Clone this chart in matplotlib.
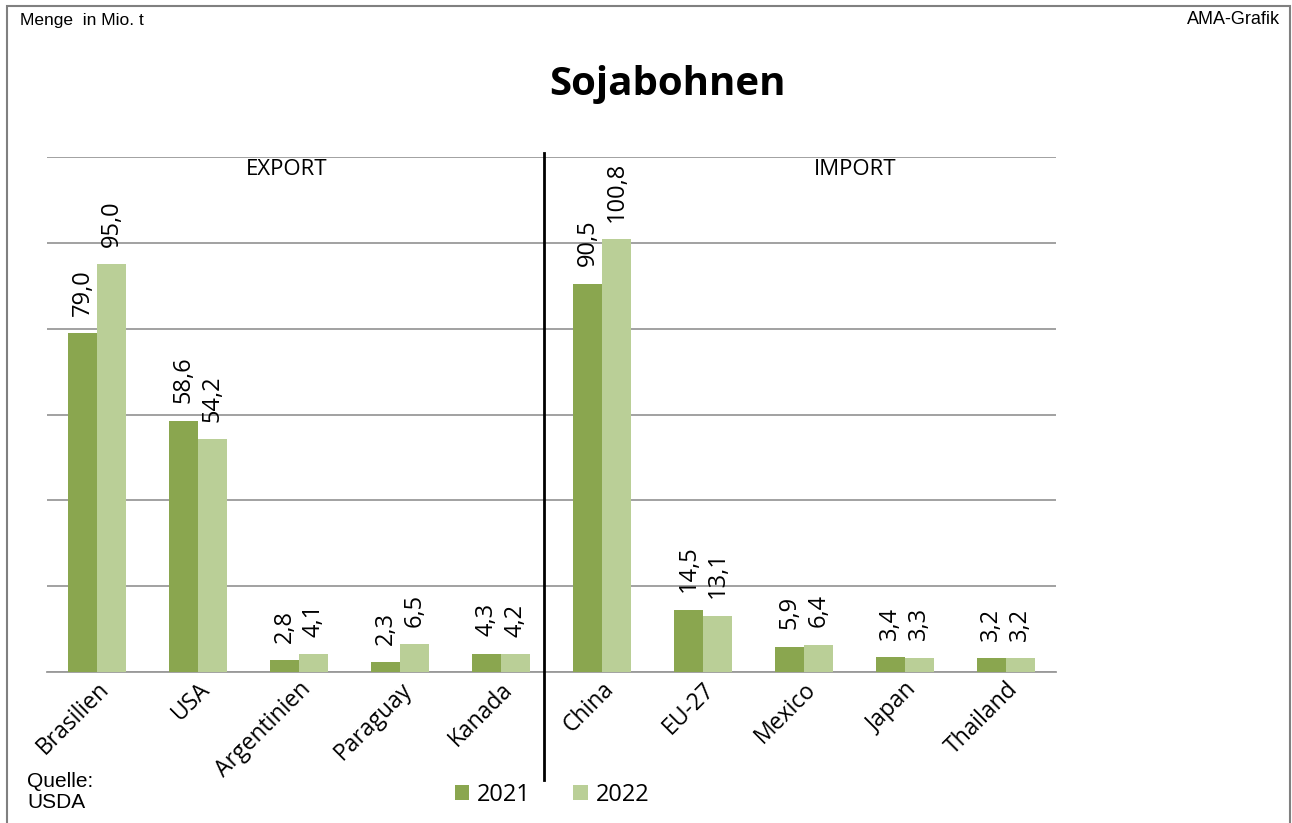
import matplotlib
matplotlib.use("Agg")
import matplotlib.pyplot as plt
from matplotlib.lines import Line2D
from matplotlib.patches import Rectangle
import numpy as np

countries = ["Brasilien", "USA", "Argentinien", "Paraguay", "Kanada",
             "China", "EU-27", "Mexico", "Japan", "Thailand"]
val_2021 = [79.0, 58.6, 2.8, 2.3, 4.3, 90.5, 14.5, 5.9, 3.4, 3.2]
val_2022 = [95.0, 54.2, 4.1, 6.5, 4.2, 100.8, 13.1, 6.4, 3.3, 3.2]
years = ["2021", "2022"]

C21 = "#8aa64f"
C22 = "#bacf97"
GRID = "#9a9a9a"
FONT = "Open Sans"

W, H = 1292, 823
fig = plt.figure(figsize=(W / 100, H / 100), dpi=100)
ax = fig.add_axes([47 / W, 1 - 672 / H, 1009 / W, 515 / H])

x = np.arange(len(countries))
bw = 0.287
b1 = ax.bar(x - bw / 2, val_2021, bw, color=C21, label=years[0], zorder=3)
b2 = ax.bar(x + bw / 2, val_2022, bw, color=C22, label=years[1], zorder=3)

def fmt(v):
    return f"{v:.1f}".replace(".", ",")

# value labels sit well above the bar tops, like the Excel original
for bars, vals in ((b1, val_2021), (b2, val_2022)):
    for r, v in zip(bars, vals):
        ax.annotate(fmt(v), (r.get_x() + r.get_width() / 2, v),
                    xytext=(0, 12.5), textcoords="offset points",
                    rotation=90, ha="center", va="bottom",
                    fontsize=17, family=FONT, zorder=4)

ax.set_xlim(-0.5, len(countries) - 0.5)
ax.set_ylim(0, 120)
ax.set_yticks(np.arange(0, 121, 20))
ax.yaxis.grid(True, color=GRID, lw=1.3, zorder=0)
ax.tick_params(axis="y", left=False, labelleft=False)
ax.tick_params(axis="x", length=0, pad=4)
ax.set_xticks(x)
ax.set_xticklabels(countries, rotation=45, ha="right", rotation_mode="anchor",
                   fontsize=16.5, family=FONT)
for s in ("top", "right", "left"):
    ax.spines[s].set_visible(False)
ax.spines["bottom"].set_color(GRID)
ax.spines["bottom"].set_linewidth(1.3)

ax.text(1.88, 117, "EXPORT", ha="center", va="center", fontsize=16, family=FONT)
ax.text(7.51, 117, "IMPORT", ha="center", va="center", fontsize=16, family=FONT)

# divider between export and import
fig.add_artist(Line2D([544 / W, 544 / W], [1 - 153 / H, 1 - 780 / H],
                      color="black", lw=2))

fig.text(667 / W, 1 - 85 / H, "Sojabohnen", ha="center", va="center",
         fontsize=29, fontweight="bold", family=FONT)
fig.text(20 / W, 1 - 20 / H, "Menge  in Mio. t", ha="left", va="center",
         fontsize=12.5, family="Liberation Sans")
fig.text(1280 / W, 1 - 20 / H, "AMA-Grafik", ha="right", va="center",
         fontsize=13, family="Liberation Sans")
fig.text(27 / W, 1 - 792 / H, "Quelle:\nUSDA", ha="left", va="center",
         fontsize=15, family="Liberation Sans", linespacing=1.15)

leg = fig.legend(handles=[b1, b2], labels=years, loc="center",
                 bbox_to_anchor=(552 / W, 1 - 795 / H), ncol=2, frameon=False,
                 prop={"family": FONT, "size": 17}, handlelength=0.6,
                 handleheight=0.6, columnspacing=1.8, handletextpad=0.35)

fig.add_artist(Rectangle((7 / W, -0.01), (1290 - 7) / W, 1 - 6 / H + 0.01,
                         fill=False, edgecolor="#808080", lw=1.5))

fig.savefig("out.png", dpi=100)
